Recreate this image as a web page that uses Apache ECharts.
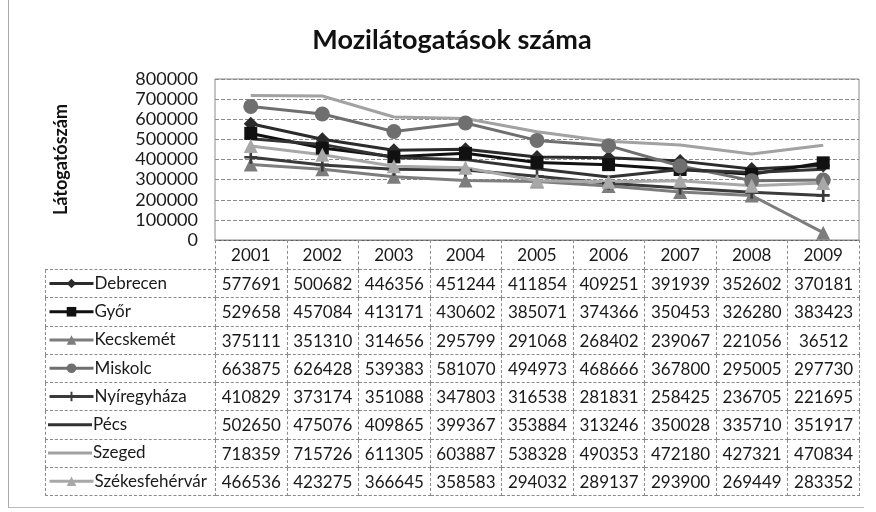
<!DOCTYPE html>
<html>
<head>
<meta charset="utf-8">
<script src="https://cdn.jsdelivr.net/npm/echarts@6/dist/echarts.min.js"></script>
<style>
html,body{margin:0;padding:0;background:#fff;}
#wrap{position:relative;width:876px;height:512px;overflow:hidden;}
#chart{position:absolute;left:0;top:0;width:876px;height:512px;}
#frame{position:absolute;left:8px;top:0;width:855px;height:507px;border-left:1px solid #aaa;border-bottom:1px solid #bbb;}
#tbl{position:absolute;left:45px;top:240px;border-collapse:collapse;table-layout:fixed;width:814px;
  font-family:Lato,"Noto Sans",sans-serif;font-size:17px;color:#1a1a1a;}
#tbl td{border:1px dashed #8a8a8a;padding:0;text-align:center;white-space:nowrap;overflow:hidden;}
#tbl td.blank{border-top:none;border-left:none;}
#tbl tr.hd td{height:28px;}
#tbl tr.row td{height:27.25px;}
</style>
</head>
<body>
<div id="wrap">
  <div id="frame"></div>
  <div id="chart"></div>
  <table id="tbl"></table>
</div>
<script>
var years = ['2001','2002','2003','2004','2005','2006','2007','2008','2009'];
var debrecen = [577691, 500682, 446356, 451244, 411854, 409251, 391939, 352602, 370181];
var gyor = [529658, 457084, 413171, 430602, 385071, 374366, 350453, 326280, 383423];
var kecskemet = [375111, 351310, 314656, 295799, 291068, 268402, 239067, 221056, 36512];
var miskolc = [663875, 626428, 539383, 581070, 494973, 468666, 367800, 295005, 297730];
var nyiregyhaza = [410829, 373174, 351088, 347803, 316538, 281831, 258425, 236705, 221695];
var pecs = [502650, 475076, 409865, 399367, 353884, 313246, 350028, 335710, 351917];
var szeged = [718359, 715726, 611305, 603887, 538328, 490353, 472180, 427321, 470834];
var szekesfehervar = [466536, 423275, 366645, 358583, 294032, 289137, 293900, 269449, 283352];
var yTicks = [0, 100000, 200000, 300000, 400000, 500000, 600000, 700000, 800000];

var plusPath = 'path://M4,0h2v10h-2z M0,4h10v2h-10z';

// név, adat, szín, marker, méret
var seriesDefs = [
    ['Debrecen', debrecen, '#2b2b2b', 'diamond', 14],
    ['Győr', gyor, '#111111', 'rect', 13],
    ['Kecskemét', kecskemet, '#7d7d7d', 'triangle', 14],
    ['Miskolc', miskolc, '#6f6f6f', 'circle', 15],
    ['Nyíregyháza', nyiregyhaza, '#3a3a3a', plusPath, 13],
    ['Pécs', pecs, '#333333', 'none', 0],
    ['Szeged', szeged, '#a2a2a2', 'none', 0],
    ['Székesfehérvár', szekesfehervar, '#a8a8a8', 'triangle', 14]
];

// táblázat
var rowTop = 269, rowH = 28.25;
var tbl = document.getElementById('tbl');
var html = '<colgroup><col style="width:170px">';
years.forEach(function(){ html += '<col style="width:71.56px">'; });
html += '</colgroup><tr class="hd"><td class="blank"></td>';
years.forEach(function(){ html += '<td></td>'; });
html += '</tr>';
seriesDefs.forEach(function(d){
    html += '<tr class="row"><td></td>';
    d[1].forEach(function(v){ html += '<td>' + v + '</td>'; });
    html += '</tr>';
});
tbl.innerHTML = html;

var chart = echarts.init(document.getElementById('chart'));

var legends = seriesDefs.map(function(d, i){
    var noMark = d[3] === 'none';
    return {
        data: noMark ? [{ name: d[0], icon: 'rect' }] : [d[0]],
        left: 48,
        top: rowTop + i * rowH + 6,
        padding: 0,
        itemWidth: 44,
        itemHeight: noMark ? 3 : 12,
        itemGap: 2,
        selectedMode: false,
        lineStyle: { width: 3 },
        textStyle: { fontFamily: 'Lato', fontSize: 17, color: '#1a1a1a', padding: [0, 0, 0, -4] }
    };
});

var series = seriesDefs.map(function(d){
    return {
        name: d[0],
        type: 'line',
        data: d[1],
        symbol: d[3],
        symbolSize: d[4],
        showSymbol: d[3] !== 'none',
        lineStyle: { color: d[2], width: 3 },
        itemStyle: { color: d[2], borderWidth: 0 },
        emphasis: { disabled: true },
        animation: false
    };
});

chart.setOption({
    animation: false,
    title: {
        text: 'Mozilátogatások száma',
        left: 447,
        textAlign: 'center',
        top: 22,
        textStyle: { fontFamily: 'Lato', fontSize: 27, fontWeight: 'bold', color: '#111' }
    },
    legend: legends,
    grid: {
        left: 215,
        right: 17,
        top: 79,
        bottom: 272,
        show: true,
        borderColor: '#8a8a8a',
        borderWidth: 1
    },
    xAxis: {
        type: 'category',
        data: years,
        boundaryGap: true,
        axisTick: { show: false },
        axisLine: { show: true, lineStyle: { color: '#555', width: 1 } },
        axisLabel: { margin: 7, fontFamily: 'Lato', fontSize: 17, color: '#1a1a1a' }
    },
    yAxis: {
        type: 'value',
        min: yTicks[0],
        max: yTicks[yTicks.length - 1],
        interval: 100000,
        name: 'Látogatószám',
        nameLocation: 'middle',
        nameGap: 145,
        nameRotate: 90,
        nameTextStyle: { fontFamily: 'Lato', fontSize: 18, fontWeight: 'bold', color: '#111' },
        axisLine: { show: false },
        axisTick: { show: false },
        axisLabel: {
            margin: 17, fontFamily: 'Lato', fontSize: 18, color: '#1a1a1a',
            formatter: function(v){ return String(v); }
        },
        splitLine: { lineStyle: { color: '#8a8a8a', type: 'dashed', width: 1 } }
    },
    series: series
});
</script>
</body>
</html>
